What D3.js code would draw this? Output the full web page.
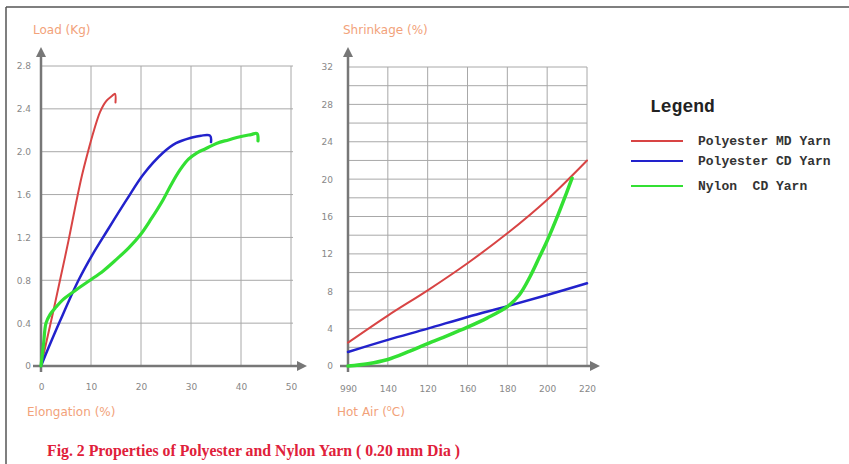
<!DOCTYPE html>
<html><head><meta charset="utf-8">
<script src="https://cdn.jsdelivr.net/npm/d3@7"></script>
<style>html,body{margin:0;padding:0;background:#fff;}svg{display:block;}</style>
</head><body>
<svg id="c" width="849" height="464"></svg>
<script>
// ---- Data ----
// Left chart: Load (Kg) vs Elongation (%)
const elongTicks = [0,10,20,30,40,50];
const loadTicks = [0,0.4,0.8,1.2,1.6,2.0,2.4,2.8];
const loadTickLabels = ["0","0.4","0.8","1.2","1.6","2.0","2.4","2.8"];
const redElong  = [0,1.2,2.5,3.8,5.5,7,8.2,9.4,10.6,11.8,13,14.2,14.8,14.9];
const redLoad   = [0,0.25,0.52,0.8,1.17,1.52,1.78,2.0,2.2,2.37,2.47,2.52,2.54,2.46];
const blueElong = [0,1.5,3.8,7.5,10.3,13.2,17.1,20.5,24.4,27,30,32,33.8,34];
const blueLoad  = [0,0.17,0.42,0.8,1.04,1.26,1.55,1.79,1.99,2.08,2.13,2.15,2.15,2.09];
const greenElong= [0,0.5,1,1.8,3,4.4,7,9.8,12.5,15.2,17.5,19.8,22,24.4,26,27.8,29.5,31.2,33,35.2,37.5,39.8,42,43.2,43.4];
const greenLoad = [0,0.2,0.4,0.48,0.55,0.62,0.71,0.8,0.89,1.0,1.1,1.22,1.37,1.55,1.69,1.83,1.93,1.99,2.03,2.08,2.11,2.14,2.16,2.17,2.1];
// Right chart: Shrinkage (%) vs Hot Air (°C)
const tempTicks = [100,120,140,160,180,200,220];
const tempTickLabels = ["990","140","120","160","180","200","220"];
const shrinkTicks = [0,4,8,12,16,20,24,28,32];
const shrinkGrid = [2,6,10,14,18,22,26,30];
const temps = [100,120,140,160,180,200,220];
const redShrink  = [2.5,5.4,8.1,11.0,14.2,17.8,22];
const blueShrink = [1.5,2.8,4.0,5.25,6.4,7.6,8.85];
const greenTemps = [100,110,120,130,140,150,160,170,180,186,191.5,196,200,205.5,209.5,212.5];
const greenShrink= [0,0.25,0.7,1.5,2.4,3.25,4.15,5.15,6.35,7.6,9.6,11.6,13.4,16.2,18.4,20.1];
const seriesNames = ["Polyester MD Yarn","Polyester CD Yarn","Nylon  CD Yarn"];
const seriesColors = ["#d84444","#2222cc","#33e033"];

// ---- Drawing ----
const svg = d3.select("#c");
const axisCol = "#777", gridCol = "#a8a8a8", tickCol = "#888", titleCol = "#f2a27a";

const defs = svg.append("defs");
defs.append("marker").attr("id","arr").attr("viewBox","0 0 10 10").attr("refX",5).attr("refY",5)
  .attr("markerWidth",4).attr("markerHeight",4).attr("orient","auto")
  .append("path").attr("d","M0,0L10,5L0,10Z").attr("fill",axisCol);

// frame
svg.append("line").attr("x1",6).attr("y1",7).attr("x2",849).attr("y2",7).attr("stroke","#555").attr("stroke-width",1.5);
svg.append("line").attr("x1",6).attr("y1",7).attr("x2",6).attr("y2",464).attr("stroke","#555").attr("stroke-width",1.5);

function lineOf(xs, ys, x, y){
  return d3.line().curve(d3.curveCatmullRom.alpha(0.5)).x(d=>x(d[0])).y(d=>y(d[1]))(xs.map((v,i)=>[v,ys[i]]));
}

// ---- Left chart ----
const xL = d3.scaleLinear().domain([0,50]).range([41,291]);
const yL = d3.scaleLinear().domain([0,2.8]).range([366,66]);
const gL = svg.append("g");
gL.selectAll(".vg").data(elongTicks.slice(1)).enter().append("line")
  .attr("x1",d=>xL(d)).attr("x2",d=>xL(d)).attr("y1",yL(0)).attr("y2",yL(2.8))
  .attr("stroke",gridCol).attr("stroke-width",1);
gL.selectAll(".hg").data(loadTicks.slice(1)).enter().append("line")
  .attr("x1",xL(0)).attr("x2",xL(50)+2).attr("y1",d=>yL(d)).attr("y2",d=>yL(d))
  .attr("stroke",gridCol).attr("stroke-width",1);
// axes
const axLx = d3.axisBottom(xL).tickValues(elongTicks).tickSize(0).tickPadding(18);
const axLy = d3.axisLeft(yL).tickValues(loadTicks).tickFormat((d,i)=>loadTickLabels[i]).tickSize(0).tickPadding(10);
const gx = gL.append("g").attr("transform","translate(0,366)").call(axLx);
const gy = gL.append("g").attr("transform","translate(41,0)").call(axLy);
[gx,gy].forEach(g=>{g.select(".domain").remove();g.selectAll("text").attr("fill",tickCol).attr("font-family","DejaVu Sans").attr("font-size",9);});
gL.append("line").attr("x1",33).attr("x2",302).attr("y1",366).attr("y2",366).attr("stroke",axisCol).attr("stroke-width",2.5).attr("marker-end","url(#arr)");
gL.append("line").attr("x1",41).attr("x2",41).attr("y1",372).attr("y2",52).attr("stroke",axisCol).attr("stroke-width",2.5).attr("marker-end","url(#arr)");
// series
[[redElong,redLoad,2],[blueElong,blueLoad,2.5],[greenElong,greenLoad,3.2]].forEach((s,i)=>{
  gL.append("path").attr("d",lineOf(s[0],s[1],xL,yL)).attr("fill","none")
    .attr("stroke",seriesColors[i]).attr("stroke-width",s[2]).attr("stroke-linecap","round").attr("stroke-linejoin","round");
});
gL.append("text").attr("x",33).attr("y",34).text("Load (Kg)").attr("fill",titleCol).attr("font-family","DejaVu Sans").attr("font-size",12);
gL.append("text").attr("x",27).attr("y",416).text("Elongation (%)").attr("fill",titleCol).attr("font-family","DejaVu Sans").attr("font-size",12);

// ---- Right chart ----
const xR = d3.scaleLinear().domain([100,220]).range([348,587]);
const yR = d3.scaleLinear().domain([0,32]).range([366,67]);
const gR = svg.append("g");
gR.selectAll(".vg").data(tempTicks.slice(1)).enter().append("line")
  .attr("x1",d=>xR(d)).attr("x2",d=>xR(d)).attr("y1",yR(0)).attr("y2",yR(32))
  .attr("stroke",gridCol).attr("stroke-width",1);
gR.selectAll(".hg").data(shrinkTicks.slice(1).concat(shrinkGrid)).enter().append("line")
  .attr("x1",xR(100)).attr("x2",xR(220)).attr("y1",d=>yR(d)).attr("y2",d=>yR(d))
  .attr("stroke",gridCol).attr("stroke-width",1);
const axRx = d3.axisBottom(xR).tickValues(tempTicks).tickFormat((d,i)=>tempTickLabels[i]).tickSize(0).tickPadding(20);
const axRy = d3.axisLeft(yR).tickValues(shrinkTicks).tickSize(0).tickPadding(15);
const gx2 = gR.append("g").attr("transform","translate(0,366)").call(axRx);
const gy2 = gR.append("g").attr("transform","translate(348,0)").call(axRy);
[gx2,gy2].forEach(g=>{g.select(".domain").remove();g.selectAll("text").attr("fill",tickCol).attr("font-family","DejaVu Sans").attr("font-size",9);});
gR.append("line").attr("x1",340).attr("x2",595).attr("y1",366).attr("y2",366).attr("stroke",axisCol).attr("stroke-width",2.5).attr("marker-end","url(#arr)");
gR.append("line").attr("x1",348).attr("x2",348).attr("y1",372).attr("y2",52).attr("stroke",axisCol).attr("stroke-width",2.5).attr("marker-end","url(#arr)");
[[temps,redShrink,2],[temps,blueShrink,2.5],[greenTemps,greenShrink,3.5]].forEach((s,i)=>{
  gR.append("path").attr("d",lineOf(s[0],s[1],xR,yR)).attr("fill","none")
    .attr("stroke",seriesColors[i]).attr("stroke-width",s[2]).attr("stroke-linecap","round").attr("stroke-linejoin","round");
});
gR.append("text").attr("x",343).attr("y",34).text("Shrinkage (%)").attr("fill",titleCol).attr("font-family","DejaVu Sans").attr("font-size",12);
const ht = gR.append("text").attr("x",337).attr("y",416).attr("fill",titleCol).attr("font-family","DejaVu Sans").attr("font-size",12);
ht.append("tspan").text("Hot Air (");
ht.append("tspan").text("o").attr("font-size",8).attr("dy",-5);
ht.append("tspan").text("C)").attr("dy",5);

// ---- Legend ----
const lg = svg.append("g");
lg.append("text").attr("x",650).attr("y",112).text("Legend").attr("font-family","Liberation Mono").attr("font-weight","bold").attr("font-size",18).attr("fill","#222");
const ly = [141,161,186];
seriesNames.forEach((n,i)=>{
  lg.append("line").attr("x1",631).attr("x2",683).attr("y1",ly[i]).attr("y2",ly[i]).attr("stroke",seriesColors[i]).attr("stroke-width",2);
  lg.append("text").attr("x",698).attr("y",ly[i]+4).text(n).attr("xml:space","preserve").style("white-space","pre")
    .attr("font-family","Liberation Mono").attr("font-weight","bold").attr("font-size",13).attr("fill","#333");
});

// ---- Caption ----
svg.append("text").attr("x",47).attr("y",456).text("Fig. 2 Properties of Polyester and Nylon Yarn ( 0.20 mm Dia )")
  .attr("font-family","Liberation Serif").attr("font-weight","bold").attr("font-size",15.8).attr("fill","#e0203a");
</script>
</body></html>
